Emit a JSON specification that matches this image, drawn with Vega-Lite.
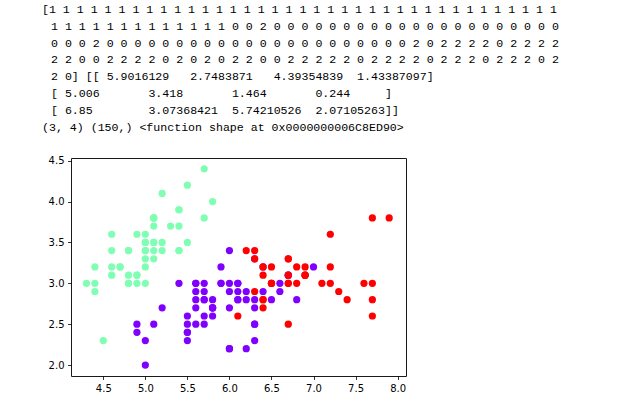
{
  "$schema": "https://vega.github.io/schema/vega-lite/v6.json",
  "width": 335,
  "height": 218,
  "autosize": {"type": "none"},
  "padding": {"left": 71, "top": 158, "right": 217, "bottom": 34},
  "background": "white",
  "config": {
    "view": {"stroke": "#1a1a1a", "strokeWidth": 1},
    "axis": {
      "domain": false,
      "grid": false,
      "ticks": true,
      "tickSize": 3.5,
      "tickColor": "#000",
      "tickWidth": 0.8,
      "labelFont": "DejaVu Sans",
      "labelFontSize": 10,
      "labelColor": "#000",
      "labelPadding": 3.5,
      "labelOverlap": false,
      "labelFlush": false,
      "title": null
    }
  },
  "title": {
    "text": [
      "[1 1 1 1 1 1 1 1 1 1 1 1 1 1 1 1 1 1 1 1 1 1 1 1 1 1 1 1 1 1 1 1 1 1 1 1 1",
      "\u28001 1 1 1 1 1 1 1 1 1 1 1 1 0 0 2 0 0 0 0 0 0 0 0 0 0 0 0 0 0 0 0 0 0 0 0 0",
      "\u28000 0 0 2 0 0 0 0 0 0 0 0 0 0 0 0 0 0 0 0 0 0 0 0 0 0 2 0 2 2 2 2 0 2 2 2 2",
      "\u28002 2 0 0 2 2 2 2 0 2 0 2 0 2 2 0 0 2 2 2 2 2 0 2 2 2 2 0 2 2 2 0 2 2 2 0 2",
      "\u28002 0] [[ 5.9016129 \u00a0 2.7483871 \u00a0 4.39354839\u00a0 1.43387097]",
      "\u2800[ 5.006 \u00a0 \u00a0 \u00a0 3.418 \u00a0 \u00a0 \u00a0 1.464 \u00a0 \u00a0 \u00a0 0.244 \u00a0 \u00a0 ]",
      "\u2800[ 6.85 \u00a0 \u00a0 \u00a0 \u00a03.07368421\u00a0 5.74210526\u00a0 2.07105263]]",
      "(3, 4) (150,) <function shape at 0x0000000006C8ED90>"
    ],
    "anchor": "start",
    "frame": "group",
    "font": "Liberation Mono, DejaVu Sans Mono",
    "fontSize": 11.6,
    "fontWeight": "normal",
    "lineHeight": 16.9,
    "color": "#000",
    "dx": -29,
    "offset": 22,
    "limit": 1000
  },
  "data": {
    "values": [
      {"sl":5.1,"sw":3.5,"c":1},{"sl":4.9,"sw":3.0,"c":1},{"sl":4.7,"sw":3.2,"c":1},{"sl":4.6,"sw":3.1,"c":1},{"sl":5.0,"sw":3.6,"c":1},
      {"sl":5.4,"sw":3.9,"c":1},{"sl":4.6,"sw":3.4,"c":1},{"sl":5.0,"sw":3.4,"c":1},{"sl":4.4,"sw":2.9,"c":1},{"sl":4.9,"sw":3.1,"c":1},
      {"sl":5.4,"sw":3.7,"c":1},{"sl":4.8,"sw":3.4,"c":1},{"sl":4.8,"sw":3.0,"c":1},{"sl":4.3,"sw":3.0,"c":1},{"sl":5.8,"sw":4.0,"c":1},
      {"sl":5.7,"sw":4.4,"c":1},{"sl":5.4,"sw":3.9,"c":1},{"sl":5.1,"sw":3.5,"c":1},{"sl":5.7,"sw":3.8,"c":1},{"sl":5.1,"sw":3.8,"c":1},
      {"sl":5.4,"sw":3.4,"c":1},{"sl":5.1,"sw":3.7,"c":1},{"sl":4.6,"sw":3.6,"c":1},{"sl":5.1,"sw":3.3,"c":1},{"sl":4.8,"sw":3.4,"c":1},
      {"sl":5.0,"sw":3.0,"c":1},{"sl":5.0,"sw":3.4,"c":1},{"sl":5.2,"sw":3.5,"c":1},{"sl":5.2,"sw":3.4,"c":1},{"sl":4.7,"sw":3.2,"c":1},
      {"sl":4.8,"sw":3.1,"c":1},{"sl":5.4,"sw":3.4,"c":1},{"sl":5.2,"sw":4.1,"c":1},{"sl":5.5,"sw":4.2,"c":1},{"sl":4.9,"sw":3.1,"c":1},
      {"sl":5.0,"sw":3.2,"c":1},{"sl":5.5,"sw":3.5,"c":1},{"sl":4.9,"sw":3.6,"c":1},{"sl":4.4,"sw":3.0,"c":1},{"sl":5.1,"sw":3.4,"c":1},
      {"sl":5.0,"sw":3.5,"c":1},{"sl":4.5,"sw":2.3,"c":1},{"sl":4.4,"sw":3.2,"c":1},{"sl":5.0,"sw":3.5,"c":1},{"sl":5.1,"sw":3.8,"c":1},
      {"sl":4.8,"sw":3.0,"c":1},{"sl":5.1,"sw":3.8,"c":1},{"sl":4.6,"sw":3.2,"c":1},{"sl":5.3,"sw":3.7,"c":1},{"sl":5.0,"sw":3.3,"c":1},
      {"sl":7.0,"sw":3.2,"c":0},{"sl":6.4,"sw":3.2,"c":0},{"sl":6.9,"sw":3.1,"c":2},{"sl":5.5,"sw":2.3,"c":0},{"sl":6.5,"sw":2.8,"c":0},
      {"sl":5.7,"sw":2.8,"c":0},{"sl":6.3,"sw":3.3,"c":0},{"sl":4.9,"sw":2.4,"c":0},{"sl":6.6,"sw":2.9,"c":0},{"sl":5.2,"sw":2.7,"c":0},
      {"sl":5.0,"sw":2.0,"c":0},{"sl":5.9,"sw":3.0,"c":0},{"sl":6.0,"sw":2.2,"c":0},{"sl":6.1,"sw":2.9,"c":0},{"sl":5.6,"sw":2.9,"c":0},
      {"sl":6.7,"sw":3.1,"c":0},{"sl":5.6,"sw":3.0,"c":0},{"sl":5.8,"sw":2.7,"c":0},{"sl":6.2,"sw":2.2,"c":0},{"sl":5.6,"sw":2.5,"c":0},
      {"sl":5.9,"sw":3.2,"c":0},{"sl":6.1,"sw":2.8,"c":0},{"sl":6.3,"sw":2.5,"c":0},{"sl":6.1,"sw":2.8,"c":0},{"sl":6.4,"sw":2.9,"c":0},
      {"sl":6.6,"sw":3.0,"c":0},{"sl":6.8,"sw":2.8,"c":0},{"sl":6.7,"sw":3.0,"c":2},{"sl":6.0,"sw":2.9,"c":0},{"sl":5.7,"sw":2.6,"c":0},
      {"sl":5.5,"sw":2.4,"c":0},{"sl":5.5,"sw":2.4,"c":0},{"sl":5.8,"sw":2.7,"c":0},{"sl":6.0,"sw":2.7,"c":0},{"sl":5.4,"sw":3.0,"c":0},
      {"sl":6.0,"sw":3.4,"c":0},{"sl":6.7,"sw":3.1,"c":0},{"sl":6.3,"sw":2.3,"c":0},{"sl":5.6,"sw":3.0,"c":0},{"sl":5.5,"sw":2.5,"c":0},
      {"sl":5.5,"sw":2.6,"c":0},{"sl":6.1,"sw":3.0,"c":0},{"sl":5.8,"sw":2.6,"c":0},{"sl":5.0,"sw":2.3,"c":0},{"sl":5.6,"sw":2.7,"c":0},
      {"sl":5.7,"sw":3.0,"c":0},{"sl":5.7,"sw":2.9,"c":0},{"sl":6.2,"sw":2.9,"c":0},{"sl":5.1,"sw":2.5,"c":0},{"sl":5.7,"sw":2.8,"c":0},
      {"sl":6.3,"sw":3.3,"c":2},{"sl":5.8,"sw":2.7,"c":0},{"sl":7.1,"sw":3.0,"c":2},{"sl":6.3,"sw":2.9,"c":2},{"sl":6.5,"sw":3.0,"c":2},
      {"sl":7.6,"sw":3.0,"c":2},{"sl":4.9,"sw":2.5,"c":0},{"sl":7.3,"sw":2.9,"c":2},{"sl":6.7,"sw":2.5,"c":2},{"sl":7.2,"sw":3.6,"c":2},
      {"sl":6.5,"sw":3.2,"c":2},{"sl":6.4,"sw":2.7,"c":2},{"sl":6.8,"sw":3.0,"c":2},{"sl":5.7,"sw":2.5,"c":0},{"sl":5.8,"sw":2.8,"c":0},
      {"sl":6.4,"sw":3.2,"c":2},{"sl":6.5,"sw":3.0,"c":2},{"sl":7.7,"sw":3.8,"c":2},{"sl":7.7,"sw":2.6,"c":2},{"sl":6.0,"sw":2.2,"c":0},
      {"sl":6.9,"sw":3.2,"c":2},{"sl":5.6,"sw":2.8,"c":0},{"sl":7.7,"sw":2.8,"c":2},{"sl":6.3,"sw":2.7,"c":0},{"sl":6.7,"sw":3.3,"c":2},
      {"sl":7.2,"sw":3.2,"c":2},{"sl":6.2,"sw":2.8,"c":0},{"sl":6.1,"sw":3.0,"c":0},{"sl":6.4,"sw":2.8,"c":2},{"sl":7.2,"sw":3.0,"c":2},
      {"sl":7.4,"sw":2.8,"c":2},{"sl":7.9,"sw":3.8,"c":2},{"sl":6.4,"sw":2.8,"c":2},{"sl":6.3,"sw":2.8,"c":0},{"sl":6.1,"sw":2.6,"c":2},
      {"sl":7.7,"sw":3.0,"c":2},{"sl":6.3,"sw":3.4,"c":2},{"sl":6.4,"sw":3.1,"c":2},{"sl":6.0,"sw":3.0,"c":0},{"sl":6.9,"sw":3.1,"c":2},
      {"sl":6.7,"sw":3.1,"c":2},{"sl":6.9,"sw":3.1,"c":2},{"sl":5.8,"sw":2.7,"c":0},{"sl":6.8,"sw":3.2,"c":2},{"sl":6.7,"sw":3.3,"c":2},
      {"sl":6.7,"sw":3.0,"c":2},{"sl":6.3,"sw":2.5,"c":0},{"sl":6.5,"sw":3.0,"c":2},{"sl":6.2,"sw":3.4,"c":2},{"sl":5.9,"sw":3.0,"c":0}
    ]
  },
  "mark": {"type": "circle", "size": 52, "opacity": 1},
  "encoding": {
    "x": {
      "field": "sl",
      "type": "quantitative",
      "scale": {"domain": [4.116, 8.1], "nice": false, "zero": false},
      "axis": {"values": [4.5, 5, 5.5, 6, 6.5, 7, 7.5, 8], "format": ".1f"}
    },
    "y": {
      "field": "sw",
      "type": "quantitative",
      "scale": {"domain": [1.866, 4.533], "nice": false, "zero": false},
      "axis": {"values": [2, 2.5, 3, 3.5, 4, 4.5], "format": ".1f"}
    },
    "color": {
      "field": "c",
      "type": "nominal",
      "scale": {"domain": [0, 1, 2], "range": ["#8000ff", "#80ffb4", "#ff0000"]},
      "legend": null
    }
  }
}
